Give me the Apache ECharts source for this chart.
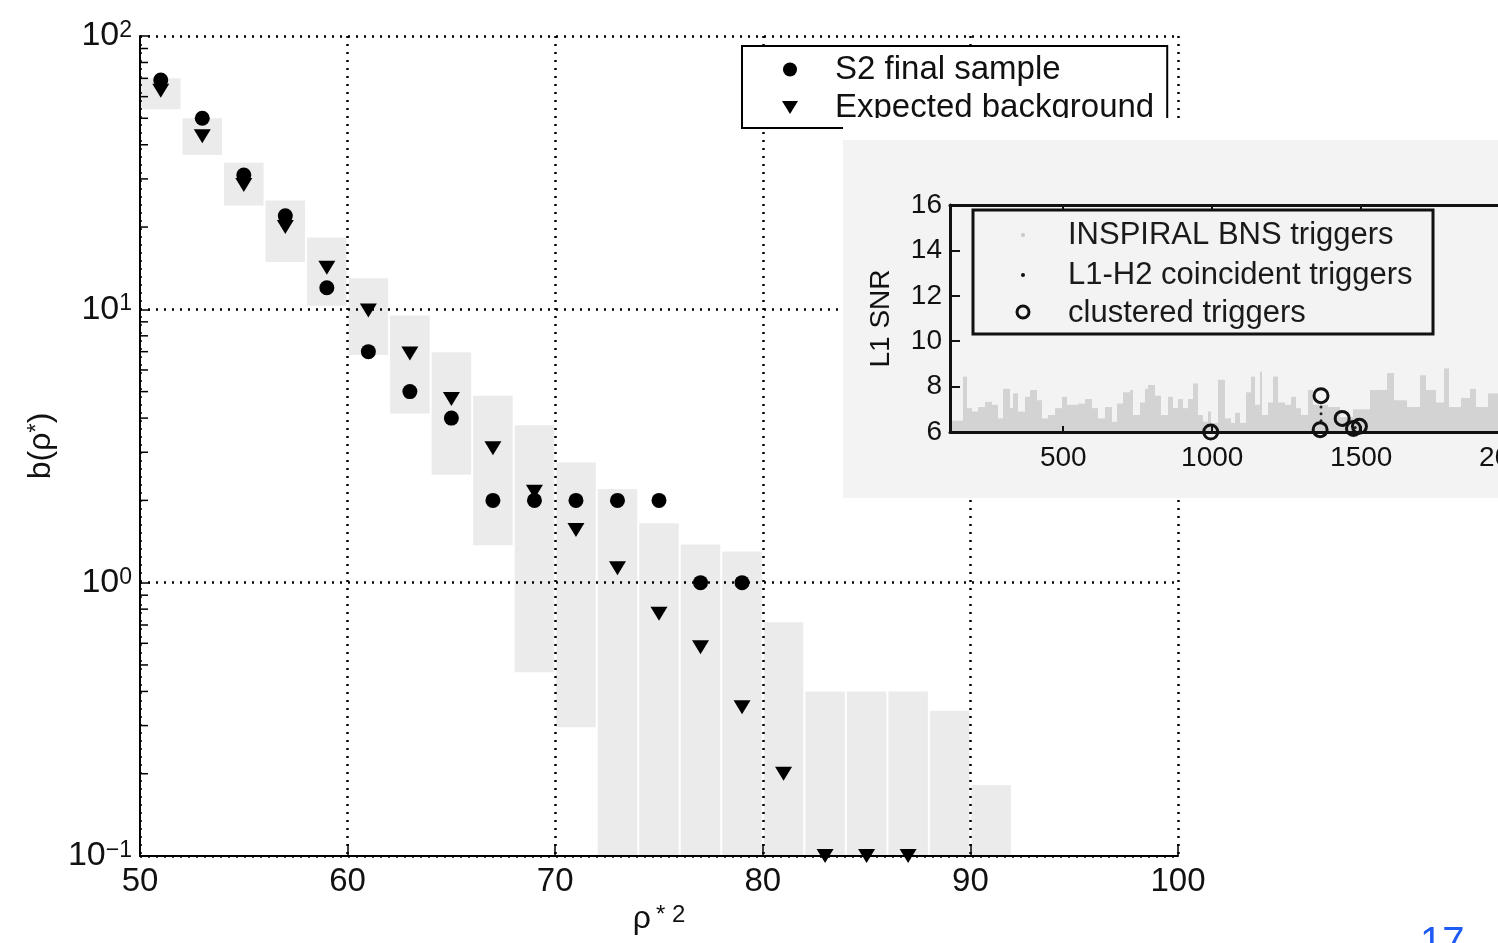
<!DOCTYPE html>
<html>
<head>
<meta charset="utf-8">
<script src="https://cdn.jsdelivr.net/npm/echarts@6/dist/echarts.min.js"></script>
<style>
  html, body { margin: 0; padding: 0; background: #fff; }
  #chart { width: 1498px; height: 943px; }
</style>
</head>
<body>
<div id="chart"></div>
<script>
// ---- Main panel: detection statistic distribution ----
const binCenters = [51, 53, 55, 57, 59, 61, 63, 65, 67, 69, 71, 73, 75, 77, 79, 81, 83, 85, 87, 89, 91];
const bandHigh = [70, 50, 34.4, 25, 18.3, 13, 9.5, 6.96, 4.83, 3.77, 2.75, 2.2, 1.65, 1.38, 1.3, 0.716, 0.4, 0.4, 0.4, 0.34, 0.182];
const bandLow  = [54, 36.7, 24, 14.9, 10.3, 6.8, 4.16, 2.48, 1.37, 0.47, 0.296, 0, 0, 0, 0, 0, 0, 0, 0, 0, 0];

const sampleX = [51, 53, 55, 57, 59, 61, 63, 65, 67, 69, 71, 73, 75, 77, 79];
const sampleCounts = [69, 50, 31, 22, 12, 7, 5, 4, 2, 2, 2, 2, 2, 1, 1];

const backgroundX = [51, 53, 55, 57, 59, 61, 63, 65, 67, 69, 71, 73, 75, 77, 79, 81, 83, 85, 87];
const backgroundExpected = [63, 43, 28.5, 20, 14.2, 9.9, 6.9, 4.7, 3.1, 2.15, 1.56, 1.13, 0.77, 0.58, 0.35, 0.2, 0.1, 0.1, 0.1];

const minorTickValues = [0.2, 0.3, 0.4, 0.5, 0.6, 0.7, 0.8, 0.9, 2, 3, 4, 5, 6, 7, 8, 9, 20, 30, 40, 50, 60, 70, 80, 90];

// ---- Inset: L1 SNR versus time ----
const streakEdges = [126.7, 163.6, 177, 193.8, 214, 237.4, 260.9, 281.1, 297.9, 321.3, 331.4, 348.2, 371.7, 388.5, 411.9, 428.7,
  448.9, 472.3, 495.8, 512.6, 529.4, 549.5, 573, 596.5, 616.6, 640.1, 663.6, 680.4, 700.5, 724, 734.1, 757.6, 774.4, 784.4,
  807.9, 828.1, 851.6, 868.3, 885.1, 901.9, 918.7, 935.4, 952.2, 969, 985.8, 995.8, 1019.3, 1042.8, 1062.9, 1076.4, 1093.2,
  1113.3, 1130.1, 1143.5, 1160.3, 1167, 1187.2, 1203.9, 1220.7, 1244.2, 1264.4, 1281.1, 1297.9, 1321.4, 1338.1, 1388.5,
  1428.7, 1472.4, 1529.4, 1586.5, 1610, 1653.6, 1697.2, 1717.4, 1750.9, 1777.8, 1794.6, 1834.9, 1865.1, 1885.2, 1925.4, 1959, 2010];
const streakTops = [6.5, 8.44, 7.05, 6.9, 7.1, 7.33, 7.2, 6.6, 7.9, 7.05, 7.7, 6.9, 7.55, 7.85, 7.4, 6.6,
  6.75, 7.05, 7.55, 7.2, 7.2, 7.25, 7.45, 7.05, 6.6, 7.1, 6.45, 7.25, 7.75, 7.85, 6.75, 7.3, 7.9,
  8.07, 7.6, 6.75, 7.55, 7.05, 7.45, 7.05, 7.45, 8.14, 6.75, 6.45, 6.9, 6.4, 8.3, 6.6, 6.4, 6.85,
  6.4, 7.75, 8.44, 7.2, 8.66, 6.75, 7.3, 8.44, 7.3, 7.2, 7.55, 7.05, 6.75, 7.85, 7.2,
  7.1, 6.65, 7.0, 7.85, 8.6, 7.4, 7.1, 8.5, 7.85, 7.3, 8.8, 7.1, 7.5, 7.9, 7.1, 7.7, 7.2];

const coincidentTimes = [1365, 1365, 1365, 1440, 1480];
const coincidentSnr   = [6.5, 6.8, 7.1, 6.3, 6.2];

const clusteredTimes = [995, 1362, 1365, 1436, 1474, 1494];
const clusteredSnr   = [6.0, 6.1, 7.6, 6.6, 6.15, 6.25];

const insetTickValues = [500, 1000, 1500, 2000];

const FONT = '"Liberation Sans", Arial, Helvetica, sans-serif';
const INK = '#111';
const Y_MIN = 0.1, Y_MAX = 100;
const T_MIN = 120, T_MAX = 2300, SNR_MIN = 6, SNR_MAX = 16;

const dotted = { color: '#000', width: 2.5, type: [2, 6] };

const chart = echarts.init(document.getElementById('chart'), null, { renderer: 'canvas' });

const option = {
  animation: false,
  backgroundColor: '#fff',
  grid: [
    { left: 140, top: 36, width: 1038, height: 820, outerBoundsMode: 'none', containLabel: false },
    { left: 950, top: 205, width: (T_MAX - T_MIN) * 149 / 500, height: 227, outerBoundsMode: 'none', containLabel: false }
  ],
  xAxis: [
    {
      gridIndex: 0, type: 'value', min: 50, max: 100, interval: 10, z: 3,
      axisLine: { lineStyle: { color: '#000', width: 2 } },
      axisTick: { inside: true, length: 12, lineStyle: { color: '#000', width: 1.5 } },
      axisLabel: { fontFamily: FONT, fontSize: 33, color: INK, margin: 9 },
      splitLine: { show: true, lineStyle: dotted },
      name: 'ρ{s|* 2}', nameLocation: 'middle', nameGap: 47,
      nameTextStyle: { fontFamily: FONT, fontSize: 32, color: INK,
        rich: { s: { fontFamily: FONT, fontSize: 24, color: INK, verticalAlign: 'top', padding: [0, 0, 0, 5] } } }
    },
    {
      gridIndex: 1, type: 'value', min: T_MIN, max: T_MAX, position: 'bottom', z: 60,
      axisLine: { lineStyle: { color: '#111', width: 3 } },
      axisTick: { inside: true, length: 6, customValues: insetTickValues, lineStyle: { color: '#111', width: 2 } },
      axisLabel: { customValues: insetTickValues, formatter: v => String(v),
        fontFamily: FONT, fontSize: 28, color: INK, margin: 12 },
      splitLine: { show: false }
    },
    {
      gridIndex: 1, type: 'value', min: T_MIN, max: T_MAX, position: 'top', z: 60,
      axisLine: { lineStyle: { color: '#111', width: 3 } },
      axisTick: { inside: true, length: 6, customValues: insetTickValues, lineStyle: { color: '#111', width: 2 } },
      axisLabel: { show: false },
      splitLine: { show: false }
    }
  ],
  yAxis: [
    {
      gridIndex: 0, type: 'log', logBase: 10, min: Y_MIN, max: Y_MAX, z: 3,
      axisLine: { lineStyle: { color: '#000', width: 2 } },
      axisTick: { inside: true, length: 10, lineStyle: { color: '#000', width: 1.5 } },
      axisLabel: {
        margin: 8, color: INK,
        formatter: function (v) {
          const e = Math.round(Math.log10(v));
          return '{b|10}{s|' + (e < 0 ? '\u2212' + (-e) : e) + '}';
        },
        rich: {
          b: { fontFamily: FONT, fontSize: 34, color: INK },
          s: { fontFamily: FONT, fontSize: 23, color: INK, verticalAlign: 'top' }
        }
      },
      splitLine: { show: true, lineStyle: dotted },
      name: 'b(ρ{s|*})', nameLocation: 'middle', nameRotate: 90, nameGap: 80,
      nameTextStyle: { fontFamily: FONT, fontSize: 32, color: INK,
        rich: { s: { fontFamily: FONT, fontSize: 24, color: INK, verticalAlign: 'top' } } }
    },
    {
      gridIndex: 1, type: 'value', min: SNR_MIN, max: SNR_MAX, interval: 2, z: 60,
      axisLine: { lineStyle: { color: '#111', width: 3 } },
      axisTick: { inside: true, length: 10, lineStyle: { color: '#111', width: 2 } },
      axisLabel: { fontFamily: FONT, fontSize: 28, color: INK, margin: 8 },
      splitLine: { show: false },
      name: 'L1 SNR', nameLocation: 'middle', nameRotate: 90, nameGap: 55,
      nameTextStyle: { fontFamily: FONT, fontSize: 28, color: INK }
    }
  ],
  legend: [{
    orient: 'vertical', left: 742, top: 46, z: 4,
    data: [
      { name: 'S2 final sample', icon: 'circle' },
      { name: 'Expected background', icon: 'path://M0,0L16,0L8,13Z' }
    ],
    itemWidth: 16, itemHeight: 14, itemGap: 5,
    padding: [7, 13, 4, 40],
    selectedMode: false,
    borderColor: '#000', borderWidth: 2, backgroundColor: '#fff',
    textStyle: { fontFamily: FONT, fontSize: 33, color: INK, padding: [0, 0, 0, 32] }
  }],
  graphic: { elements: [
    { type: 'rect', z: 50, shape: { x: 843, y: 118, width: 655, height: 382 }, style: { fill: '#ffffff' }, silent: true },
    { type: 'rect', z: 51, shape: { x: 843, y: 140, width: 655, height: 358 }, style: { fill: '#f3f3f3' }, silent: true },
    { type: 'rect', z: 70, shape: { x: 973, y: 210, width: 460, height: 124 }, style: { fill: 'none', stroke: '#111', lineWidth: 3 }, silent: true },
    { type: 'circle', z: 70, shape: { cx: 1023, cy: 235, r: 2 }, style: { fill: '#c8c8c8' }, silent: true },
    { type: 'circle', z: 70, shape: { cx: 1023, cy: 275, r: 2 }, style: { fill: '#111' }, silent: true },
    { type: 'circle', z: 70, shape: { cx: 1023, cy: 312, r: 6 }, style: { fill: 'none', stroke: '#111', lineWidth: 3 }, silent: true },
    { type: 'text', z: 70, x: 1068, y: 235, style: { text: 'INSPIRAL BNS triggers', font: '31px ' + FONT, fill: '#1a1a1a', verticalAlign: 'middle' }, silent: true },
    { type: 'text', z: 70, x: 1068, y: 275, style: { text: 'L1-H2 coincident triggers', font: '31px ' + FONT, fill: '#1a1a1a', verticalAlign: 'middle' }, silent: true },
    { type: 'text', z: 70, x: 1068, y: 313, style: { text: 'clustered triggers', font: '31px ' + FONT, fill: '#1a1a1a', verticalAlign: 'middle' }, silent: true },
    { type: 'text', z: 70, x: 1420, y: 924, style: { text: '17', font: '40px ' + FONT, fill: '#1f5cf5', verticalAlign: 'top' }, silent: true }
  ] },
  series: [
    {
      name: 'Background uncertainty', type: 'custom', xAxisIndex: 0, yAxisIndex: 0, z: 1,
      encode: { x: 0, y: 1 },
      data: binCenters.map((c, i) => [c, bandHigh[i], bandLow[i]]),
      renderItem: function (params, api) {
        const c = api.value(0);
        const hi = api.value(1);
        const lo = Math.max(api.value(2), Y_MIN);
        const p0 = api.coord([c - 1, hi]);
        const p1 = api.coord([c + 1, lo]);
        return {
          type: 'rect',
          shape: { x: p0[0] + 1, y: p0[1], width: p1[0] - p0[0] - 2, height: p1[1] - p0[1] },
          style: { fill: '#ebebeb' }
        };
      }
    },
    {
      name: 'Minor ticks', type: 'custom', xAxisIndex: 0, yAxisIndex: 0, z: 4, silent: true,
      encode: { y: 0 },
      data: minorTickValues.map(v => [v]),
      renderItem: function (params, api) {
        const p = api.coord([50, api.value(0)]);
        return { type: 'line', shape: { x1: p[0], y1: p[1], x2: p[0] + 8, y2: p[1] },
          style: { stroke: '#000', lineWidth: 1.5 } };
      }
    },
    {
      name: 'S2 final sample', type: 'scatter', xAxisIndex: 0, yAxisIndex: 0, z: 5,
      symbol: 'circle', symbolSize: 15,
      itemStyle: { color: '#000', opacity: 1 },
      data: sampleX.map((x, i) => [x, sampleCounts[i]])
    },
    {
      name: 'Expected background', type: 'scatter', xAxisIndex: 0, yAxisIndex: 0, z: 5,
      symbol: 'triangle', symbolRotate: 180, symbolSize: [17, 14],
      itemStyle: { color: '#000', opacity: 1 },
      data: backgroundX.map((x, i) => [x, backgroundExpected[i]])
    },
    {
      name: 'INSPIRAL BNS triggers', type: 'custom', xAxisIndex: 1, yAxisIndex: 1, z: 60, silent: true,
      encode: { x: [0, 1], y: 2 },
      data: streakTops.map((top, i) => [streakEdges[i], streakEdges[i + 1], top]),
      renderItem: function (params, api) {
        const a = api.coord([api.value(0), api.value(2)]);
        const b = api.coord([api.value(1), SNR_MIN]);
        return { type: 'rect',
          shape: { x: a[0], y: a[1], width: Math.max(b[0] - a[0], 1), height: b[1] - a[1] },
          style: { fill: '#d3d3d3' } };
      }
    },
    {
      name: 'L1-H2 coincident triggers', type: 'scatter', xAxisIndex: 1, yAxisIndex: 1, z: 62,
      symbol: 'circle', symbolSize: 3,
      itemStyle: { color: '#222', opacity: 1 },
      data: coincidentTimes.map((t, i) => [t, coincidentSnr[i]])
    },
    {
      name: 'clustered triggers', type: 'scatter', xAxisIndex: 1, yAxisIndex: 1, z: 63,
      symbol: 'circle', symbolSize: 14,
      itemStyle: { color: 'rgba(0,0,0,0)', borderColor: '#111', borderWidth: 3, opacity: 1 },
      data: clusteredTimes.map((t, i) => [t, clusteredSnr[i]])
    }
  ]
};

chart.setOption(option);
</script>
</body>
</html>
